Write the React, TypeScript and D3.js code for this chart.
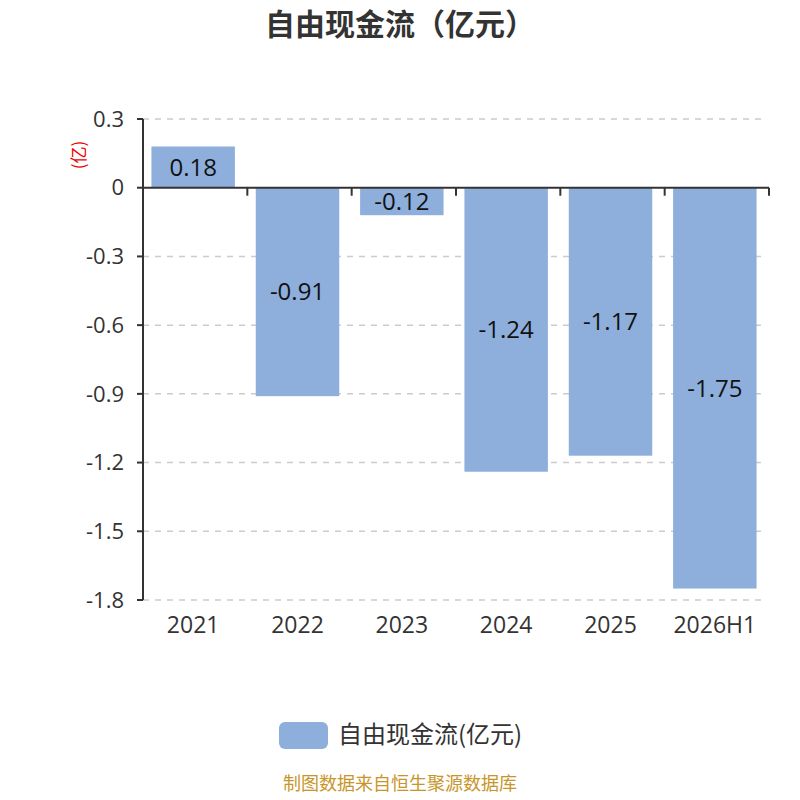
import * as d3 from "d3";

const categories = ["2021", "2022", "2023", "2024", "2025", "2026H1"];
const values = [0.18, -0.91, -0.12, -1.24, -1.17, -1.75];
const yTicks = [0.3, 0, -0.3, -0.6, -0.9, -1.2, -1.5, -1.8];

const width = 800;
const height = 800;
const marginLeft = 143;
const marginRight = 31;
const marginTop = 119;
const plotBottom = 600;

const font = "'Open Sans', 'Noto Sans CJK SC', sans-serif";
const cjkFont = "'Noto Sans CJK SC', sans-serif";
const barColor = "#8eaedb";

export default function App() {
  const x = d3
    .scaleBand<string>()
    .domain(categories)
    .range([marginLeft, width - marginRight])
    .paddingInner(0.2)
    .paddingOuter(0.1);
  const y = d3.scaleLinear([-1.8, 0.3], [plotBottom, marginTop]);
  const step = x.step();
  const fmt = (v: number) => (v === 0 ? "0" : String(Math.round(v * 10) / 10));

  return (
    <svg
      width={width}
      height={height}
      style={{ display: "block", position: "absolute", left: 0, top: 0 }}
      fontFamily={font}
    >
      <rect width={width} height={height} fill="#fff" />
      <text
        x={width / 2}
        y={35}
        textAnchor="middle"
        fontSize="30px"
        fontWeight="bold"
        fill="#333"
        fontFamily={cjkFont}
      >
        自由现金流（亿元）
      </text>

      {/* grid */}
      <g stroke="#ccc" strokeWidth={1.5} strokeDasharray="6,6">
        {yTicks
          .filter((t) => t !== 0)
          .map((t) => (
            <line key={t} x1={marginLeft} x2={width - marginRight - 2} y1={y(t)} y2={y(t)} />
          ))}
      </g>

      {/* bars */}
      {values.map((v, i) => (
        <rect
          key={categories[i]}
          x={(x(categories[i]) as number) - 2}
          width={x.bandwidth()}
          y={y(Math.max(0, v))}
          height={Math.abs(y(v) - y(0))}
          fill={barColor}
        />
      ))}

      {/* value labels */}
      {values.map((v, i) => (
        <text
          key={"l" + categories[i]}
          x={(x(categories[i]) as number) - 2 + x.bandwidth() / 2}
          y={(y(v) + y(0)) / 2}
          dy="0.35em"
          textAnchor="middle"
          fontSize="24px"
          fill="#111"
        >
          {v.toFixed(2)}
        </text>
      ))}

      {/* y axis */}
      <g stroke="#333" strokeWidth={2}>
        <line x1={marginLeft} x2={marginLeft} y1={marginTop} y2={plotBottom} />
        {yTicks.map((t) => (
          <line key={t} x1={marginLeft - 6} x2={marginLeft} y1={y(t)} y2={y(t)} />
        ))}
      </g>
      {yTicks.map((t) => (
        <text
          key={"t" + t}
          x={marginLeft - 19}
          y={y(t)}
          dy="0.35em"
          textAnchor="end"
          fontSize="22px"
          fill="#333"
        >
          {fmt(t)}
        </text>
      ))}

      {/* x axis on zero line */}
      <g stroke="#333" strokeWidth={2}>
        <line x1={marginLeft} x2={width - marginRight} y1={y(0)} y2={y(0)} />
        {categories.map((c) => (
          <line
            key={c}
            x1={(x(c) as number) - step * 0.1 + step}
            x2={(x(c) as number) - step * 0.1 + step}
            y1={y(0)}
            y2={y(0) + 8}
          />
        ))}
      </g>
      {categories.map((c) => (
        <text
          key={"c" + c}
          x={(x(c) as number) - 2 + x.bandwidth() / 2}
          y={625}
          dy="0.35em"
          textAnchor="middle"
          fontSize="23px"
          fill="#333"
        >
          {c}
        </text>
      ))}

      <text
        transform={`translate(79,155) rotate(-90)`}
        textAnchor="middle"
        dy="0.35em"
        fontSize="17px"
        fill="#e00"
        fontFamily={cjkFont}
      >
        (亿)
      </text>

      {/* legend */}
      <rect x={279} y={722} width={49} height={27} rx={6} fill={barColor} />
      <text x={338} y={735} dy="0.35em" fontSize="24px" fill="#333" fontFamily={cjkFont}>
        自由现金流(亿元)
      </text>

      <text x={400} y={790} textAnchor="middle" fontSize="18px" fill="#c8952a" fontFamily={cjkFont}>
        制图数据来自恒生聚源数据库
      </text>
    </svg>
  );
}
